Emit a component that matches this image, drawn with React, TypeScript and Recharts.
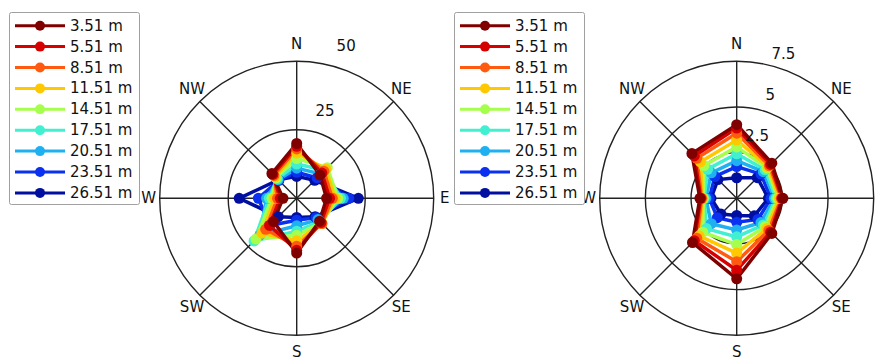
import React from "react";
import { RadarChart, Radar, PolarGrid, PolarAngleAxis, PolarRadiusAxis } from "recharts";

const directions = ["N", "NE", "E", "SE", "S", "SW", "W", "NW"];
const heights = ["3.51 m", "5.51 m", "8.51 m", "11.51 m", "14.51 m", "17.51 m", "20.51 m", "23.51 m", "26.51 m"];
const colors = ["#800000", "#d60000", "#ff5a10", "#ffc800", "#a6ff4d", "#40f0d0", "#1eb0f0", "#0a30f0", "#000fa0"];

// left panel, values per direction N, NE, E, SE, S, SW, W, NW
const left351 = [20, 12, 10.9, 11.8, 20, 12, 5, 12.8];
const left551 = [19, 13, 12, 12.5, 19, 14, 6, 12.3];
const left851 = [18, 14, 13, 13, 17.5, 16, 7, 11.8];
const left1151 = [16.5, 15, 14, 13, 15.5, 18, 8, 11.2];
const left1451 = [14.5, 15.8, 15, 12.5, 13.5, 21, 9, 10.6];
const left1751 = [12.5, 14.5, 16, 12, 12, 22, 10, 10];
const left2051 = [11, 12.5, 17, 11, 10, 19, 11, 9.6];
const left2351 = [9.5, 10.5, 19, 10, 8, 14, 14, 9.2];
const left2651 = [8, 9.3, 22.5, 9.5, 7, 9.5, 21, 9.5];

// right panel
const right351 = [4.3, 2.9, 2.7, 2.9, 4.7, 3.65, 2.15, 3.7];
const right551 = [4.1, 2.8, 2.65, 2.8, 4.2, 3.5, 2.1, 3.5];
const right851 = [3.8, 2.7, 2.6, 2.65, 3.7, 3.3, 2.05, 3.3];
const right1151 = [3.4, 2.6, 2.5, 2.5, 3.2, 3.1, 2.0, 3.0];
const right1451 = [3.0, 2.5, 2.4, 2.35, 2.7, 2.8, 1.95, 2.7];
const right1751 = [2.6, 2.35, 2.3, 2.2, 2.25, 2.5, 1.9, 2.4];
const right2051 = [2.2, 2.2, 2.2, 2.0, 1.85, 2.1, 1.8, 2.1];
const right2351 = [1.85, 2.0, 2.0, 1.75, 1.4, 1.6, 1.6, 1.8];
const right2651 = [1.2, 1.7, 1.85, 1.45, 1.0, 1.3, 1.5, 1.55];

const leftTicks = [0, 25, 50];
const rightTicks = [0, 2.5, 5, 7.5];

const leftSeries = [left351, left551, left851, left1151, left1451, left1751, left2051, left2351, left2651];
const rightSeries = [right351, right551, right851, right1151, right1451, right1751, right2051, right2351, right2651];

const buildRows = (series: number[][]) =>
    directions.map((dir, i) => {
        const row: { [key: string]: any } = { dir };
        series.forEach((s, k) => (row["h" + k] = s[i]));
        return row;
    });

const FONT = "'DejaVu Sans', sans-serif";
const CX = 288.7;
const CY = 190.3;
const R = 137;

const angleTick = (props: any) => {
    const { payload } = props;
    const a = (payload.coordinate * Math.PI) / 180;
    const x = CX + 148 * Math.cos(a);
    const y = CY - 154 * Math.sin(a);
    return (
        <text x={x} y={y} textAnchor="middle" dominantBaseline="central" fontSize={15} fontFamily={FONT} fill="#111">
            {payload.value}
        </text>
    );
};

const radiusTick = (props: any) => {
    const { x, y, payload } = props;
    const dx = x - CX;
    const dy = y - CY;
    const r = Math.hypot(dx, dy);
    if (r < 1) return <g />;
    const k = (r + 23) / r;
    return (
        <text x={CX + dx * k} y={CY + dy * k} textAnchor="middle" dominantBaseline="central" fontSize={15} fontFamily={FONT} fill="#111">
            {payload.value}
        </text>
    );
};

const makeDot = (color: string) => (p: any) =>
    <circle key={p.key ?? `${p.cx}-${p.cy}`} cx={p.cx} cy={p.cy} r={5.5} fill={color} />;

function Panel({ left, series, ticks }: { left: number; series: number[][]; ticks: number[] }) {
    const data = buildRows(series);
    const max = ticks[ticks.length - 1];
    const order = heights.map((_, k) => k).reverse();
    return (
        <div style={{ position: "absolute", left, top: 0 }}>
            <RadarChart width={446} height={351} data={data} cx={CX} cy={CY} outerRadius={R} margin={{ top: 0, right: 0, bottom: 0, left: 0 }}>
                <PolarGrid
                    gridType="circle"
                    polarRadius={ticks.slice(1).map((t) => (t / max) * R)}
                    stroke="#222"
                    strokeWidth={1.4}
                />
                <PolarAngleAxis dataKey="dir" tick={angleTick} tickLine={false} axisLine={false} />
                <PolarRadiusAxis angle={72} domain={[0, max]} ticks={ticks} tick={radiusTick} axisLine={false} tickLine={false} />
                {order.map((k) => (
                    <Radar
                        key={k}
                        dataKey={"h" + k}
                        stroke={colors[k]}
                        strokeWidth={3.5}
                        fill="none"
                        fillOpacity={0}
                        dot={makeDot(colors[k])}
                        isAnimationActive={false}
                    />
                ))}
            </RadarChart>
        </div>
    );
}

function LegendBox({ left, top }: { left: number; top: number }) {
    return (
        <svg width={132} height={194} style={{ position: "absolute", left, top }}>
            <rect x={0.5} y={0.5} width={130} height={192} fill="#fff" stroke="#a0a0a0" rx={2} />
            {heights.map((h, k) => {
                const y = 13.7 + k * 20.9;
                return (
                    <g key={h}>
                        <line x1={6} x2={56} y1={y} y2={y} stroke={colors[k]} strokeWidth={3} />
                        <circle cx={31} cy={y} r={5} fill={colors[k]} />
                        <text x={61} y={y} dominantBaseline="central" fontSize={15} fontFamily={FONT} fill="#111">
                            {h}
                        </text>
                    </g>
                );
            })}
        </svg>
    );
}

export default function App() {
    return (
        <div style={{ position: "relative", width: 878, height: 351, overflow: "hidden", background: "#fff" }}>
            <Panel left={0} series={leftSeries} ticks={leftTicks} />
            <Panel left={440} series={rightSeries} ticks={rightTicks} />
            <LegendBox left={1} top={4} />
            <LegendBox left={446} top={4} />
        </div>
    );
}
